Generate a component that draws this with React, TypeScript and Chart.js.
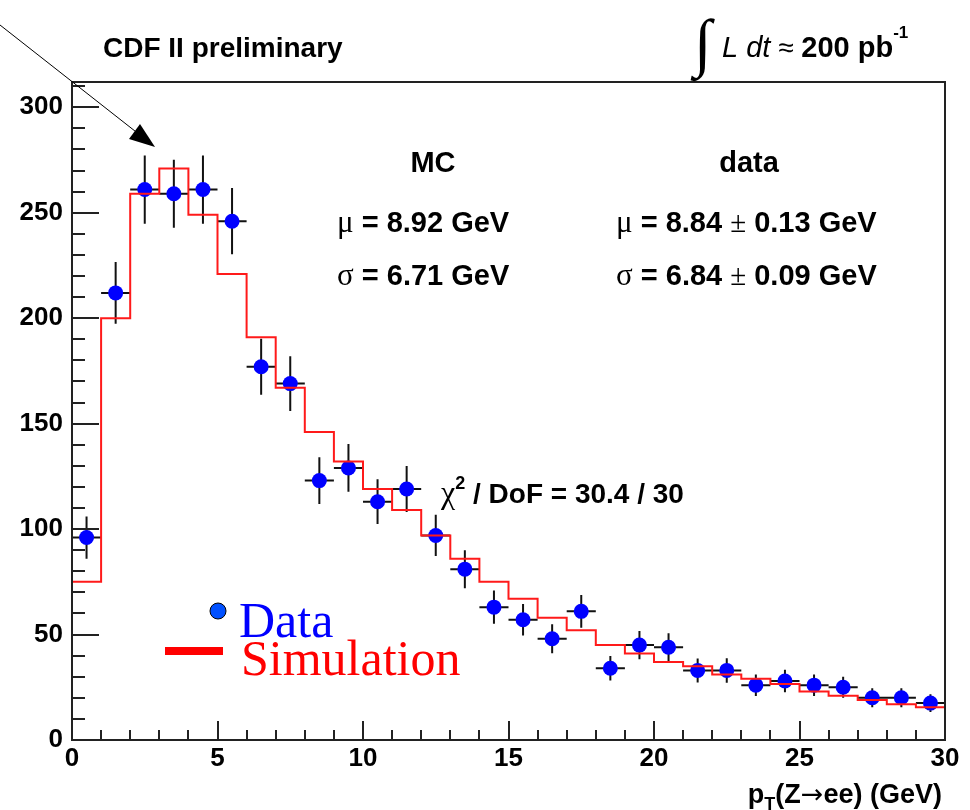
import React, { useEffect, useRef } from "react";
import { Chart, registerables } from "chart.js";

Chart.register(...registerables);

const binCenters = [0.5, 1.5, 2.5, 3.5, 4.5, 5.5, 6.5, 7.5, 8.5, 9.5, 10.5, 11.5, 12.5, 13.5, 14.5, 15.5, 16.5, 17.5, 18.5, 19.5, 20.5, 21.5, 22.5, 23.5, 24.5, 25.5, 26.5, 27.5, 28.5, 29.5];
const dataValues = [96, 212, 261, 259, 261, 246, 177, 169, 123, 129, 113, 119, 97, 81, 63, 57, 48, 61, 34, 45, 44, 33, 33, 26, 28, 26, 25, 20, 20, 17.5];
const dataErrors = [10, 14.6, 16.2, 16.1, 16.2, 15.7, 13.3, 13, 11.1, 11.3, 10.6, 10.9, 9.8, 9, 7.9, 7.5, 6.9, 7.8, 5.8, 6.7, 6.6, 5.7, 5.8, 5.1, 5.3, 5.1, 5, 4.5, 4.5, 4.2];
const binEdges = [0, 1, 2, 3, 4, 5, 6, 7, 8, 9, 10, 11, 12, 13, 14, 15, 16, 17, 18, 19, 20, 21, 22, 23, 24, 25, 26, 27, 28, 29, 30];
const mcValues = [75, 200, 259, 271, 249, 221, 191, 167, 146, 132, 119, 109, 97, 86, 75, 67, 58, 52, 45, 41, 37, 35, 31, 29, 26.5, 23, 21, 19, 17, 15.5];
const xTickValues = [0, 5, 10, 15, 20, 25, 30];
const yTickValues = [0, 50, 100, 150, 200, 250, 300];
const xMinorStep = 1;
const yMinorStep = 10;

const SANS = '"Liberation Sans", Arial, sans-serif';
const SERIF = '"Liberation Serif", "Times New Roman", serif';

type Run = { t: string; font: string; dy?: number; color?: string };

function runsWidth(ctx: CanvasRenderingContext2D, runs: Run[]) {
  let w = 0;
  for (const r of runs) {
    ctx.font = r.font;
    w += ctx.measureText(r.t).width;
  }
  return w;
}

function drawRuns(ctx: CanvasRenderingContext2D, x: number, y: number, runs: Run[]) {
  let cx = x;
  for (const r of runs) {
    ctx.font = r.font;
    ctx.fillStyle = r.color || "#000";
    ctx.textAlign = "left";
    ctx.textBaseline = "alphabetic";
    ctx.fillText(r.t, cx, y + (r.dy || 0));
    cx += ctx.measureText(r.t).width;
  }
}

const B = (s: number) => `bold ${s}px ${SANS}`;
const G = (s: number) => `${s}px ${SERIF}`;

const errorBarPlugin = {
  id: "errorBars",
  beforeDatasetDraw(chart: any, args: any) {
    if (args.index !== 1) return;
    const ctx = chart.ctx;
    const xs = chart.scales.x;
    const ys = chart.scales.y;
    ctx.save();
    ctx.strokeStyle = "#111";
    ctx.lineWidth = 2;
    ctx.beginPath();
    for (let i = 0; i < binCenters.length; i++) {
      const px = xs.getPixelForValue(binCenters[i]);
      const py = ys.getPixelForValue(dataValues[i]);
      const lo = ys.getPixelForValue(dataValues[i] - dataErrors[i]);
      const hi = ys.getPixelForValue(dataValues[i] + dataErrors[i]);
      const l = xs.getPixelForValue(binCenters[i] - 0.5);
      const r = xs.getPixelForValue(binCenters[i] + 0.5);
      ctx.moveTo(px, lo);
      ctx.lineTo(px, hi);
      ctx.moveTo(l, py);
      ctx.lineTo(r, py);
    }
    ctx.stroke();
    ctx.restore();
  },
};

const framePlugin = {
  id: "frameAndText",
  afterDraw(chart: any) {
    const ctx: CanvasRenderingContext2D = chart.ctx;
    const a = chart.chartArea;
    const xs = chart.scales.x;
    const ys = chart.scales.y;
    ctx.save();
    // frame
    ctx.strokeStyle = "#222";
    ctx.lineWidth = 2;
    ctx.strokeRect(a.left, a.top, a.right - a.left, a.bottom - a.top);
    // ticks
    ctx.lineWidth = 2;
    ctx.beginPath();
    for (let v = 0; v <= 312; v += yMinorStep) {
      const py = Math.round(ys.getPixelForValue(v));
      const len = v % 50 === 0 ? 27 : 13;
      ctx.moveTo(a.left, py);
      ctx.lineTo(a.left + len, py);
    }
    for (let v = 0; v <= 30; v += xMinorStep) {
      const px = Math.round(xs.getPixelForValue(v));
      const len = v % 5 === 0 ? 19 : 10;
      ctx.moveTo(px, a.bottom);
      ctx.lineTo(px, a.bottom - len);
    }
    ctx.stroke();

    // axis title (right aligned to the frame)
    const titleRuns: Run[] = [
      { t: "p", font: B(27) },
      { t: "T", font: B(18), dy: 7 },
      { t: "(Z", font: B(27) },
      { t: "\u2192", font: `27px "DejaVu Sans", sans-serif` },
      { t: "ee) (GeV)", font: B(27) },
    ];
    drawRuns(ctx, a.right - 3 - runsWidth(ctx, titleRuns), 803, titleRuns);

    // header
    drawRuns(ctx, 103, 57, [{ t: "CDF II preliminary", font: B(28) }]);
    ctx.font = `64px ${SERIF}`;
    ctx.fillStyle = "#000";
    ctx.textAlign = "left";
    ctx.fillText("\u222B", 694, 64);
    drawRuns(ctx, 722, 57, [
      { t: "L dt", font: `italic 29px ${SANS}` },
      { t: " \u2248 ", font: `28px ${SANS}` },
      { t: "200 pb", font: B(29) },
      { t: "-1", font: B(17), dy: -19 },
    ]);

    // stats
    ctx.textAlign = "center";
    ctx.font = B(29);
    ctx.fillStyle = "#000";
    ctx.fillText("MC", 433, 172);
    ctx.fillText("data", 749, 172);
    drawRuns(ctx, 337, 232, [
      { t: "\u03BC", font: G(31) },
      { t: " = 8.92 GeV", font: B(29) },
    ]);
    drawRuns(ctx, 337, 285, [
      { t: "\u03C3", font: G(31) },
      { t: " = 6.71 GeV", font: B(29) },
    ]);
    drawRuns(ctx, 616, 232, [
      { t: "\u03BC", font: G(31) },
      { t: " = 8.84 ", font: B(29) },
      { t: "\u00B1", font: G(29) },
      { t: " 0.13 GeV", font: B(29) },
    ]);
    drawRuns(ctx, 616, 285, [
      { t: "\u03C3", font: G(31) },
      { t: " = 6.84 ", font: B(29) },
      { t: "\u00B1", font: G(29) },
      { t: " 0.09 GeV", font: B(29) },
    ]);
    drawRuns(ctx, 441, 503, [
      { t: "\u03C7", font: G(32) },
      { t: "2", font: B(18), dy: -14 },
      { t: " / DoF = 30.4 / 30", font: B(28) },
    ]);

    // legend
    ctx.beginPath();
    ctx.arc(218, 611, 8, 0, Math.PI * 2);
    ctx.fillStyle = "#0050ff";
    ctx.fill();
    ctx.strokeStyle = "#000";
    ctx.lineWidth = 1;
    ctx.stroke();
    ctx.fillStyle = "#ff0000";
    ctx.fillRect(165, 647, 58, 8);
    drawRuns(ctx, 239, 637, [{ t: "Data", font: G(50), color: "#0000ff" }]);
    drawRuns(ctx, 241, 675, [{ t: "Simulation", font: G(50), color: "#ff0000" }]);

    // arrow
    ctx.strokeStyle = "#000";
    ctx.lineWidth = 1;
    ctx.beginPath();
    ctx.moveTo(0, 25);
    ctx.lineTo(140, 135);
    ctx.stroke();
    ctx.beginPath();
    ctx.moveTo(155, 147);
    ctx.lineTo(129, 139);
    ctx.lineTo(140, 124);
    ctx.closePath();
    ctx.fillStyle = "#000";
    ctx.fill();
    ctx.restore();
  },
};

export default function App() {
  const ref = useRef<HTMLCanvasElement | null>(null);
  useEffect(() => {
    if (!ref.current) return;
    const tickFont = { family: SANS, size: 26, weight: "bold" as const };
    const chart = new Chart(ref.current, {
      type: "scatter",
      data: {
        datasets: [
          {
            type: "line",
            label: "Simulation",
            data: binEdges.map((x, i) => ({ x, y: mcValues[Math.min(i, mcValues.length - 1)] })),
            stepped: true,
            borderColor: "#ff1a1a",
            borderWidth: 2,
            pointRadius: 0,
            fill: false,
          } as any,
          {
            type: "scatter",
            label: "Data",
            data: binCenters.map((x, i) => ({ x, y: dataValues[i] })),
            pointRadius: 7.5,
            pointHoverRadius: 7.5,
            backgroundColor: "#0000ff",
            borderColor: "#0000ff",
            borderWidth: 0,
          },
        ],
      },
      options: {
        animation: false,
        responsive: false,
        devicePixelRatio: 1,
        layout: { padding: { top: 82, right: 25, left: 0, bottom: 0 } },
        plugins: { legend: { display: false }, tooltip: { enabled: false } },
        scales: {
          x: {
            type: "linear",
            min: 0,
            max: 30,
            grid: { display: false, drawTicks: false },
            border: { display: false },
            ticks: { font: tickFont, color: "#000", padding: 3, maxRotation: 0 },
            afterBuildTicks: (s: any) => {
              s.ticks = xTickValues.map((v) => ({ value: v }));
            },
            afterFit: (s: any) => {
              s.height = 70;
            },
          },
          y: {
            type: "linear",
            min: 0,
            max: 312,
            grid: { display: false, drawTicks: false },
            border: { display: false },
            ticks: { font: tickFont, color: "#000", padding: 9 },
            afterBuildTicks: (s: any) => {
              s.ticks = yTickValues.map((v) => ({ value: v }));
            },
            afterFit: (s: any) => {
              s.width = 72;
            },
          },
        },
      },
      plugins: [errorBarPlugin, framePlugin],
    });
    return () => chart.destroy();
  }, []);
  return (
    <div style={{ position: "absolute", left: 0, top: 0, width: 970, height: 810, background: "#fff" }}>
      <canvas ref={ref} width={970} height={810} style={{ width: 970, height: 810 }} />
    </div>
  );
}
